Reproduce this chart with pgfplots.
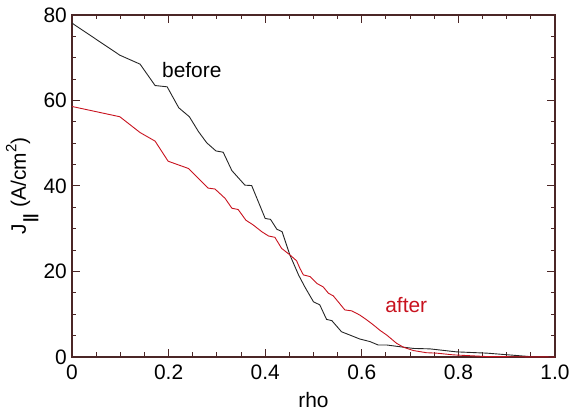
\documentclass[border=0pt]{standalone}
\usepackage{fontspec}
\setmainfont{Liberation Sans}
\usepackage{pgfplots}
\pgfplotsset{compat=1.18}
\definecolor{frame}{RGB}{75,38,38}
\definecolor{after}{RGB}{200,18,30}
\begin{document}
\fontsize{21}{25}\selectfont
\begin{tikzpicture}
\begin{axis}[
    scale only axis,
    width=483bp, height=342bp,
    xmin=0, xmax=1, ymin=0, ymax=80,
    xtick={0,0.2,...,1.0},
    xticklabels={0,0.2,0.4,0.6,0.8,1.0},
    ytick={0,20,40,60,80},
    minor x tick num=3, minor y tick num=3,
    tick align=inside,
    major tick length=8bp, minor tick length=4.5bp,
    axis line style={frame, line width=1.1bp},
    every tick/.style={frame, line width=1bp},
    /pgf/number format/assume math mode=true,
    ticklabel style={font=\fontsize{21}{25}\selectfont},
    label style={font=\fontsize{21}{25}\selectfont},
    xlabel={rho},
    ylabel={J\kern1bp\raisebox{-9bp}{\fontsize{16}{16}\selectfont\bfseries |\kern-0.5bp|}\kern1bp\ (A/cm\raisebox{0.45em}{\fontsize{15}{15}\selectfont 2})},
    xlabel style={yshift=2bp},
    ylabel style={yshift=-9bp},
    xticklabel style={yshift=-1bp},
    yticklabel style={xshift=2bp},
    clip=false,
]
\addplot[black!85, line width=0.9bp] coordinates {
(0,78.1) (0.099,70.6) (0.141,68.5) (0.172,63.5) (0.197,63.2) (0.221,58.3)
(0.243,56.2) (0.262,52.7) (0.279,50.1) (0.298,48.2) (0.313,47.9) (0.331,43.6)
(0.358,40.2) (0.372,40.1) (0.400,32.4) (0.411,32.2) (0.424,29.9) (0.435,29.3)
(0.451,23.9) (0.469,19.2) (0.482,16.4) (0.500,12.9) (0.513,12.2) (0.527,8.8)
(0.538,8.5) (0.558,5.9) (0.576,5.1) (0.596,4.2) (0.617,3.6) (0.634,2.8)
(0.652,2.8) (0.679,2.4) (0.707,2.0) (0.741,1.9) (0.796,1.2) (0.859,0.9)
(0.948,0.1) (1.0,0)
};
\addplot[after, line width=0.9bp] coordinates {
(0,58.6) (0.099,56.2) (0.141,52.5) (0.172,50.5) (0.199,45.8) (0.241,44.1)
(0.282,39.5) (0.296,39.3) (0.317,37.1) (0.331,34.8) (0.344,34.5) (0.360,32.0)
(0.375,30.9) (0.393,29.3) (0.407,28.3) (0.420,28.0) (0.434,25.4) (0.451,23.9)
(0.465,22.5) (0.472,20.7) (0.479,19.2) (0.493,18.8) (0.507,17.2) (0.520,16.4)
(0.531,14.9) (0.541,14.3) (0.565,11.0) (0.579,10.8) (0.596,9.8) (0.610,8.7)
(0.624,7.5) (0.638,6.2) (0.652,5.1) (0.672,3.2) (0.686,2.3) (0.707,1.5)
(0.734,1.0) (0.755,0.9) (0.789,0.5) (0.859,0.1) (1.0,0)
};
\node[black] at (axis cs:0.248,67.1) {before};
\node[after] at (axis cs:0.692,12.2) {after};
\coordinate (sw) at (rel axis cs:0,0);
\coordinate (ne) at (rel axis cs:1,1);
\end{axis}
\pgfresetboundingbox
\path ([shift={(-72bp,-55bp)}]sw) rectangle ([shift={(17bp,15bp)}]ne);
\end{tikzpicture}
\end{document}
